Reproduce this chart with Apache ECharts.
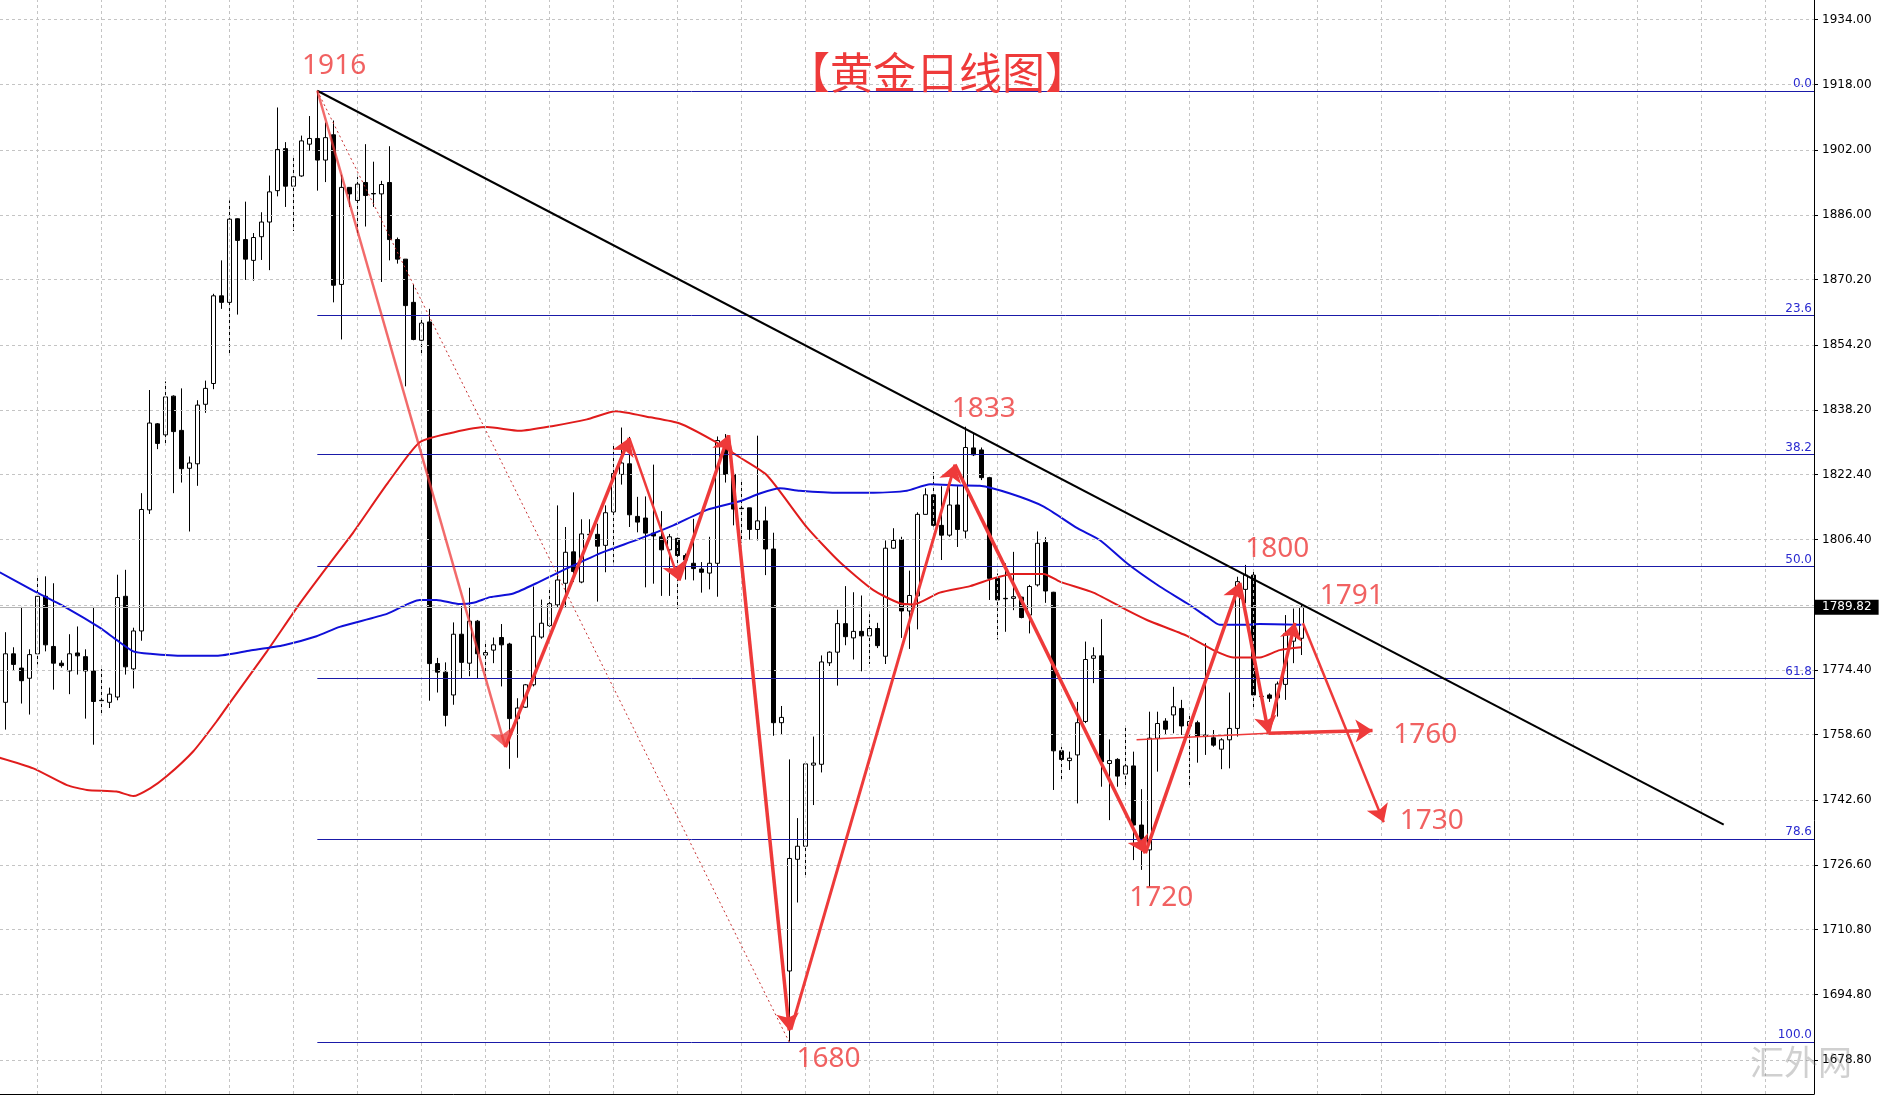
<!DOCTYPE html>
<html><head><meta charset="utf-8">
<script src="https://cdn.jsdelivr.net/npm/echarts@6/dist/echarts.min.js"></script>
<style>html,body{margin:0;padding:0;background:#fff}#c{width:1879px;height:1098px}</style>
</head><body><div id="c"></div>
<script>
// ---------- data ----------
const opens = [1766.5,1778.4,1774.9,1772.4,1778.4,1792.5,1780.2,1776.1,1774.2,1778.6,1777.7,1774.2,1767.0,1766.5,1767.8,1792.5,1774.7,1784.0,1813.7,1834.8,1832.1,1841.6,1833.2,1823.9,1825.0,1839.6,1844.7,1866.2,1864.6,1885.1,1880.0,1874.9,1880.7,1884.3,1892.0,1902.3,1893.1,1895.6,1903.4,1904.8,1899.5,1905.7,1869.0,1892.8,1889.6,1894.0,1891.3,1891.2,1894.0,1880.0,1875.2,1864.6,1855.3,1859.8,1776.0,1773.9,1768.3,1783.2,1776.1,1786.4,1778.1,1779.3,1782.4,1780.8,1762.5,1765.3,1770.8,1782.5,1785.3,1790.4,1795.7,1803.4,1796.0,1807.6,1807.7,1805.0,1813.2,1822.4,1825.0,1812.1,1811.7,1808.0,1807.1,1803.9,1806.7,1802.5,1800.6,1799.2,1798.2,1800.6,1830.7,1822.4,1814.1,1814.2,1808.9,1811.0,1804.1,1761.5,1700.6,1728.0,1731.2,1751.1,1751.3,1776.2,1778.8,1785.8,1782.3,1783.9,1782.8,1784.6,1777.8,1804.3,1806.4,1788.9,1792.6,1812.6,1817.4,1809.9,1807.5,1814.9,1808.5,1828.9,1828.4,1821.6,1796.9,1792.0,1792.0,1792.3,1787.9,1795.3,1805.7,1793.5,1754.6,1752.2,1753.6,1761.8,1777.3,1777.9,1751.5,1752.5,1748.9,1750.9,1736.4,1730.3,1757.7,1761.9,1763.4,1765.0,1760.7,1761.5,1758.1,1757.8,1755.0,1757.3,1760.1,1794.2,1797.7,1768.0,1768.3,1767.6,1770.9,1781.5,1782.2];
const closes = [1778.4,1775.8,1771.8,1778.2,1792.5,1780.6,1776.1,1775.5,1778.4,1777.9,1774.2,1766.7,1766.9,1768.5,1792.2,1775.2,1784.0,1813.8,1835.0,1830.0,1841.4,1832.9,1823.8,1825.2,1839.4,1843.5,1866.2,1864.6,1885.0,1879.8,1875.2,1880.5,1884.3,1891.7,1902.1,1893.1,1895.4,1904.2,1904.8,1899.5,1905.0,1868.8,1892.8,1891.2,1893.6,1890.8,1891.2,1893.5,1880.0,1875.2,1863.8,1855.5,1859.5,1776.0,1773.9,1763.3,1783.2,1776.3,1786.4,1778.4,1778.7,1780.6,1780.6,1762.5,1765.1,1770.8,1782.7,1785.9,1790.7,1796.5,1803.3,1798.6,1807.8,1807.7,1804.8,1813.0,1822.6,1825.2,1812.5,1810.7,1808.0,1807.3,1803.9,1807.1,1802.5,1801.4,1799.3,1798.4,1800.6,1830.7,1822.4,1813.9,1814.0,1808.9,1811.0,1804.1,1761.5,1762.8,1728.2,1731.2,1751.4,1751.6,1776.4,1778.8,1785.8,1782.6,1783.9,1782.8,1784.6,1780.4,1804.3,1806.2,1788.9,1792.7,1812.6,1817.4,1809.9,1807.5,1814.9,1808.9,1829.0,1827.2,1821.6,1796.9,1791.6,1791.9,1792.4,1787.3,1794.9,1805.5,1793.8,1754.6,1752.5,1752.8,1761.5,1777.0,1777.9,1751.9,1752.2,1748.4,1750.9,1736.4,1731.1,1757.7,1761.3,1759.9,1765.4,1760.7,1761.8,1758.2,1758.5,1756.0,1757.3,1760.1,1796.1,1797.7,1768.3,1767.9,1767.5,1771.0,1783.3,1784.0,1789.82];
const lows = [1759.8,1774.2,1766.2,1763.5,1775.8,1779.0,1769.6,1775.0,1768.5,1773.3,1762.5,1756.1,1763.5,1765.1,1767.0,1773.3,1769.9,1781.6,1812.7,1828.6,1829.8,1817.8,1820.4,1808.4,1819.6,1837.5,1843.3,1863.0,1851.8,1861.6,1870.1,1869.9,1875.0,1872.5,1890.6,1888.0,1882.1,1895.4,1901.8,1892.0,1894.1,1864.6,1855.5,1888.0,1881.3,1883.2,1888.0,1869.6,1874.9,1874.1,1844.0,1855.3,1851.5,1766.9,1768.9,1760.6,1765.9,1772.3,1772.9,1772.4,1772.9,1776.1,1770.4,1750.2,1752.9,1765.1,1770.4,1782.1,1785.0,1789.9,1789.9,1796.0,1795.7,1807.1,1791.2,1798.4,1800.8,1819.9,1809.5,1808.2,1794.7,1795.6,1792.6,1792.6,1789.4,1796.6,1796.4,1793.4,1794.2,1792.4,1820.4,1809.9,1805.7,1806.4,1806.2,1797.7,1758.3,1758.6,1683.3,1717.4,1723.8,1741.3,1749.3,1775.4,1770.6,1780.5,1777.0,1774.1,1775.9,1779.8,1775.9,1804.1,1782.3,1779.6,1784.4,1812.6,1809.6,1801.4,1807.1,1804.6,1806.7,1826.9,1821.0,1791.6,1781.9,1783.8,1789.1,1787.1,1783.4,1794.9,1790.9,1745.0,1747.0,1749.9,1741.7,1761.4,1771.2,1745.8,1737.6,1745.8,1745.4,1727.8,1725.4,1721.3,1749.5,1758.5,1758.9,1758.5,1745.8,1751.7,1753.6,1755.6,1750.1,1750.3,1758.1,1790.8,1764.6,1766.3,1766.6,1763.0,1767.1,1776.1,1778.1];
const highs = [1783.7,1780.0,1789.9,1779.5,1797.4,1797.4,1795.7,1776.8,1783.2,1785.1,1779.5,1789.9,1774.7,1770.1,1797.8,1799.0,1784.8,1817.8,1843.1,1835.0,1845.2,1841.8,1843.5,1826.8,1840.6,1845.4,1866.7,1874.9,1889.6,1885.2,1889.3,1881.6,1886.7,1895.7,1912.4,1903.9,1900.2,1905.5,1910.3,1916.5,1908.7,1909.2,1895.9,1892.8,1895.4,1903.4,1899.1,1894.4,1902.9,1880.5,1875.2,1869.0,1860.3,1863.0,1777.4,1776.3,1786.1,1790.1,1794.6,1786.7,1781.6,1782.4,1785.7,1781.1,1767.5,1771.0,1794.9,1791.7,1794.2,1814.8,1809.5,1818.0,1811.4,1811.4,1810.3,1814.8,1829.7,1833.9,1831.6,1816.9,1817.0,1824.8,1813.4,1807.8,1806.9,1803.0,1811.5,1800.9,1807.1,1831.7,1832.3,1822.7,1821.3,1814.2,1831.9,1814.5,1808.1,1765.6,1752.5,1738.1,1751.8,1758.1,1778.0,1779.0,1789.2,1795.0,1793.5,1792.7,1788.1,1786.0,1806.2,1809.2,1807.1,1798.8,1813.1,1819.0,1823.0,1819.5,1819.5,1819.5,1834.1,1832.5,1829.0,1821.8,1798.1,1800.6,1803.4,1792.4,1795.3,1808.4,1807.0,1793.6,1755.6,1754.4,1766.6,1781.4,1780.0,1786.9,1757.4,1752.8,1760.5,1754.4,1745.2,1764.2,1764.2,1762.6,1770.3,1767.1,1763.8,1762.0,1781.0,1759.7,1757.7,1768.9,1797.3,1800.2,1798.9,1769.5,1768.7,1771.6,1787.9,1789.5,1790.4];
const candleIndex = opens.map((_, i) => i);

// moving averages, read at points along the curves: [candle index, price]
const redMA = [[-0.7,1752.9],[3.5,1750.3],[7.7,1746.2],[10.2,1745.0],[13.9,1744.6],[16,1743.5],[18.1,1745.4],[20.2,1748.4],[23.5,1754.5],[26.4,1761.8],[28.1,1766.5],[32.7,1779.0],[36.8,1790.7],[40.6,1800.7],[43.5,1808.2],[47.7,1820.0],[51.8,1830.3],[56,1832.7],[60.2,1834.0],[64.3,1833.1],[68.5,1834.3],[72.7,1835.9],[76.3,1837.9],[80.6,1836.4],[84.3,1834.9],[88.5,1830.7],[91.8,1826.6],[95.2,1822.2],[100.2,1809.4],[104.3,1800.9],[108.5,1794.0],[111.8,1790.8],[113.5,1790.5],[116.8,1793.4],[120.6,1795.0],[123.5,1796.9],[126,1798.0],[129.8,1798.0],[131.8,1796.1],[136,1793.4],[140.2,1789.1],[142.7,1786.7],[147.7,1782.8],[151,1779.3],[153.5,1777.5],[156.8,1777.5],[159.3,1779.3],[162,1780.0]];
const blueMA = [[-0.7,1798.4],[3.5,1793.9],[7.7,1789.6],[11.8,1784.8],[13.9,1781.8],[16,1779.0],[18.1,1778.4],[22.3,1777.9],[26.4,1777.9],[30.6,1779.2],[34.8,1780.5],[38.9,1782.7],[41.8,1785.0],[47.7,1788.2],[51.8,1791.6],[53.9,1791.6],[56.8,1790.6],[58.5,1790.9],[60.6,1792.3],[63.5,1793.2],[66.8,1796.1],[70.6,1799.7],[74.8,1803.4],[79,1806.4],[83.5,1809.9],[87.7,1813.7],[91.8,1815.8],[94.3,1817.7],[96.8,1819.0],[99.3,1818.4],[104.3,1817.9],[108.5,1817.9],[112.7,1818.4],[115.6,1820.0],[119.3,1819.7],[121.8,1819.6],[125.6,1817.7],[129.8,1814.5],[134,1809.2],[136.8,1806.3],[140.2,1800.6],[144.3,1794.9],[147.7,1790.8],[150.2,1787.5],[151.8,1785.5],[154.8,1785.5],[156.8,1785.7],[162,1785.5]];

// right price axis labels and grid prices
const priceTicks = [1934.00,1918.00,1902.00,1886.00,1870.20,1854.20,1838.20,1822.40,1806.40,1774.40,1758.60,1742.60,1726.60,1710.80,1694.80,1678.80];
const gridPrices = [1934.00,1918.00,1902.00,1886.00,1870.20,1854.20,1838.20,1822.40,1806.40,1790.40,1774.40,1758.60,1742.60,1726.60,1710.80,1694.80,1678.80];
const lastPrice = 1789.82;

// Fibonacci retracement
const fibNames = ['0.0','23.6','38.2','50.0','61.8','78.6','100.0'];
const fibPrices = [1916.5,1861.4,1827.3,1799.8,1772.3,1733.0,1683.1];
const fibStart = 39;

// drawn lines [candle index, price]
const trendLine = [[39,1916.5],[214.8,1736.5]];
const fibDiagonal = [[39,1916.5],[98,1683.1]];
const arrowSegments = [
  {from:[39,1916.5], to:[62.5,1755.5], w:2.5, light:true},
  {from:[62.5,1755.5], to:[78.0,1831.3], w:3.5},
  {from:[78.0,1831.3], to:[84.2,1796.4], w:2.5},
  {from:[84.2,1796.4], to:[90.4,1832.0], w:3.5},
  {from:[90.4,1832.0], to:[98.0,1686.0], w:3.5},
  {from:[98.2,1686.2], to:[118.7,1824.8], w:3},
  {from:[118.7,1824.8], to:[142.5,1729.5], w:3.5},
  {from:[142.5,1729.5], to:[154.3,1795.8], w:3.5},
  {from:[154.3,1795.8], to:[157.9,1758.9], w:3.5},
  {from:[157.9,1758.9], to:[161.2,1786.0], w:3.5},
  {from:[157.9,1758.9], to:[170.9,1759.6], w:3.5},
  {from:[162.2,1785.9], to:[172.3,1737.1], w:2.5}
];
const plainSegments = [
  {from:[141.4,1757.3], to:[157.9,1758.9], w:1.5}
];
const annotations = [
  ['1916',41.1,1922.6],['1833',122.3,1838.4],['1800',159.0,1804.1],['1791',168.3,1792.6],
  ['1760',177.5,1758.5],['1730',178.3,1737.4],['1720',144.5,1718.6],['1680',102.9,1679.1]
];
const titleText = '【黄金日线图】';
const watermarkText = '汇外网';

// ---------- chart ----------
const chart = echarts.init(document.getElementById('c'), null, {renderer:'canvas'});
const FONT = 'DejaVu Sans';
const RED = '#ee3a3a';
const X_MIN = -0.6667, X_MAX = 226.083;
const xGrid = [];
for (let k = 4; k <= 220; k += 8) xGrid.push(k);

const option = {
  animation: false,
  backgroundColor: '#ffffff',
  grid: {left: 0, right: 65, top: 0, bottom: 4},
  xAxis: {
    type: 'value', min: X_MIN, max: X_MAX,
    axisLine: {show: true, onZero: false, lineStyle: {color: '#000', width: 1}},
    axisTick: {show: false}, axisLabel: {show: false}, splitLine: {show: false}
  },
  yAxis: {
    type: 'value', position: 'right', min: 1670.43, max: 1938.76,
    axisLine: {show: true, onZero: false, lineStyle: {color: '#000', width: 1}},
    axisTick: {show: true, length: 4, customValues: priceTicks, lineStyle: {color: '#000'}},
    axisLabel: {customValues: priceTicks, formatter: v => Number(v).toFixed(2), color: '#000',
      fontFamily: FONT, fontSize: 12, margin: 8},
    splitLine: {show: false}
  },
  graphic: [
    {type: 'text', x: 937.5, y: 72.5, z: 100, style: {text: titleText, fill: RED,
      font: '43px "Noto Sans CJK SC"', textAlign: 'center', textVerticalAlign: 'middle'}},
    {type: 'text', x: 1801, y: 1062, z: 100, style: {text: watermarkText, fill: 'rgba(120,120,120,0.35)',
      font: '34px "Noto Sans CJK SC"', textAlign: 'center', textVerticalAlign: 'middle'}}
  ],
  series: [
    { // grid lines
      type: 'line', data: [], z: 1, silent: true,
      markLine: {silent: true, symbol: ['none','none'], label: {show: false},
        lineStyle: {color: '#c4c4c4', type: [3,3], width: 1},
        data: xGrid.map(x => ({xAxis: x})).concat(gridPrices.map(p => ({yAxis: p})))}
    },
    { // current price line
      type: 'line', data: [], z: 2, silent: true,
      markLine: {silent: true, symbol: ['none','none'],
        lineStyle: {color: '#b4b4b4', type: 'solid', width: 1},
        label: {show: true, position: 'end', distance: 1, formatter: lastPrice.toFixed(2),
          backgroundColor: '#000', color: '#fff', padding: [2,7,1,7], fontFamily: FONT, fontSize: 12},
        data: [{yAxis: lastPrice}]}
    },
    { // fibonacci levels
      type: 'line', data: [], z: 2, silent: true,
      markLine: {silent: true, symbol: ['none','none'],
        lineStyle: {color: '#1a1aa8', type: 'solid', width: 1},
        label: {show: true, position: 'insideEndTop', formatter: '{b}', color: '#2a2ad0',
          fontFamily: FONT, fontSize: 12, distance: [2, 1]},
        data: fibPrices.map((p, k) => [{name: fibNames[k], coord: [fibStart, p]}, {coord: [X_MAX, p]}])}
    },
    {
      type: 'candlestick', z: 3, barWidth: 5,
      data: candleIndex.map(i => [i, opens[i], closes[i], lows[i], highs[i]]),
      itemStyle: {color: '#ffffff', color0: '#000000', borderColor: '#000000', borderColor0: '#000000',
        borderColorDoji: '#000000', borderWidth: 1}
    },
    {
      type: 'line', z: 4, data: redMA, smooth: 0.2, showSymbol: false, symbol: 'none',
      lineStyle: {color: '#e01c1c', width: 2}
    },
    {
      type: 'line', z: 4, data: blueMA, smooth: 0.2, showSymbol: false, symbol: 'none',
      lineStyle: {color: '#1010d8', width: 2}
    },
    {
      type: 'lines', coordinateSystem: 'cartesian2d', z: 5, polyline: false, symbol: ['none','none'],
      lineStyle: {color: '#000', width: 2, opacity: 1},
      data: [{coords: trendLine}]
    },
    {
      type: 'lines', coordinateSystem: 'cartesian2d', z: 5, polyline: false, symbol: ['none','none'],
      lineStyle: {color: '#c83232', width: 1, type: [2,3], opacity: 1},
      data: [{coords: fibDiagonal}]
    },
    {
      type: 'lines', coordinateSystem: 'cartesian2d', z: 6, polyline: false, symbol: ['none','none'],
      lineStyle: {color: RED, width: 1.5, opacity: 1},
      data: plainSegments.map(s => ({coords: [s.from, s.to], lineStyle: {width: s.w}}))
    },
    {
      type: 'lines', coordinateSystem: 'cartesian2d', z: 6, polyline: false,
      symbol: ['none','arrow'], symbolSize: 17,
      lineStyle: {color: RED, width: 3, opacity: 1},
      data: arrowSegments.map(s => ({coords: [s.from, s.to],
        lineStyle: {width: s.w, color: s.light ? 'rgba(238,58,58,0.75)' : RED}}))
    },
    {
      type: 'scatter', z: 7, symbolSize: 2, silent: true,
      itemStyle: {color: 'rgba(0,0,0,0)'},
      data: annotations.map(a => ({value: [a[1], a[2]], name: a[0]})),
      label: {show: true, position: 'inside', formatter: '{b}', color: RED,
        fontFamily: 'Noto Sans', fontSize: 28}
    }
  ]
};
chart.setOption(option);
</script>
</body></html>
